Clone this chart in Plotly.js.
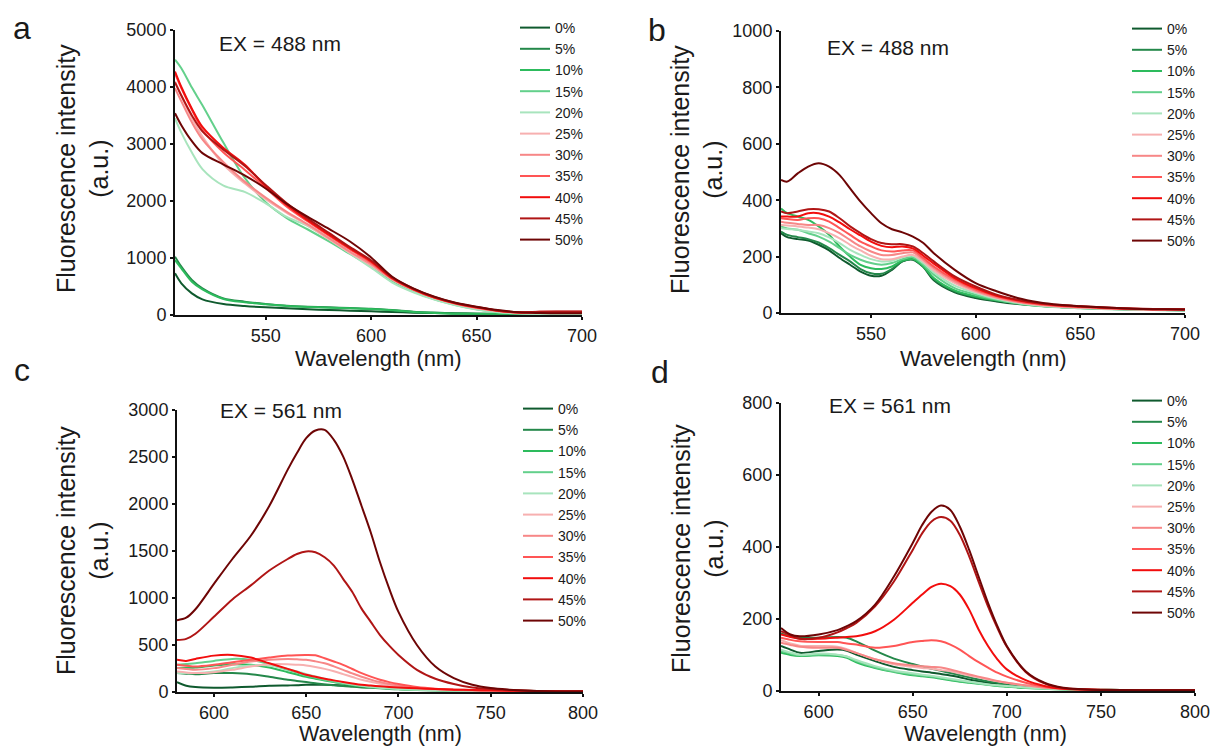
<!DOCTYPE html>
<html>
<head>
<meta charset="utf-8">
<script src="https://cdn.plot.ly/plotly-3.0.1.min.js"></script>
<style>html,body{margin:0;padding:0;background:#fff;}#chart{width:1214px;height:747px;}</style>
</head>
<body>
<div id="chart"></div>
<script>
// ---------- data ----------
const seriesNames = ['0%','5%','10%','15%','20%','25%','30%','35%','40%','45%','50%'];
const seriesColors = ['#0f5a2e','#24884a','#2dbb5d','#63d08b','#a8e4bd','#f7b0b0','#f78787','#ff5555','#f20d0d','#b01515','#6e0505'];

// Panel a: EX = 488 nm (0-5000)
const wlA = [507,510,515,520,530,540,550,560,570,580,590,600,610,620,630,640,650,660,670,680,690,700];
const a0  = [731,556,380,275,193,158,134,117,99,88,76,64,52,41,33,27,23,20,18,18,18,18];
const a5  = [1023,848,614,468,292,234,193,164,146,134,123,111,88,58,42,29,22,18,18,18,18,18];
const a10 = [965,819,585,450,281,222,187,158,140,129,117,105,82,53,36,23,20,20,20,20,20,20];
const a15 = [4480,4330,3990,3680,3020,2410,1980,1700,1500,1290,1070,848,585,409,275,175,99,53,29,18,15,15];
const a20 = [3450,3200,2850,2560,2270,2160,1960,1720,1560,1330,1080,830,570,400,270,170,96,50,28,18,15,15];
const a25 = [4100,3850,3450,3130,2640,2310,2030,1790,1570,1330,1090,870,620,440,300,195,120,70,40,35,40,40];
const a30 = [3980,3750,3380,3080,2680,2340,2060,1810,1590,1350,1110,890,630,445,305,200,125,72,42,40,45,45];
const a35 = [4240,3980,3600,3250,2850,2550,2230,1900,1640,1390,1150,920,640,450,305,202,130,75,45,48,52,52];
const a40 = [4270,4000,3620,3300,2930,2640,2260,1930,1660,1410,1170,940,645,450,304,205,135,76,45,55,58,58];
const a45 = [4080,3850,3500,3220,2900,2620,2280,1960,1690,1440,1190,960,660,462,315,210,140,80,48,58,60,60];
const a50 = [3540,3330,3050,2840,2640,2450,2220,1950,1720,1510,1290,1010,672,468,322,216,146,88,47,35,30,30];

// Panel b: EX = 488 nm (0-1000)
const wlB = [507,510,515,520,525,530,535,540,545,550,555,560,565,570,575,580,590,600,610,620,630,640,650,660,670,680,690,700];
const b0  = [283,269,262,257,242,222,195,171,147,132,132,153,183,189,163,116,73,53,41,32,26,21,18,15,13,12,11,10];
const b5  = [289,277,269,262,250,230,206,183,156,141,139,156,183,191,167,120,77,57,44,35,28,23,19,16,14,12,11,10];
const b10 = [371,354,342,330,307,277,236,200,171,159,156,165,186,191,165,124,80,59,45,35,28,24,20,17,14,12,11,11];
const b15 = [307,300,295,283,271,253,230,206,189,177,171,177,191,198,171,136,88,65,47,34,25,20,17,14,12,11,10,10];
const b20 = [301,298,295,289,283,268,248,224,206,191,183,185,198,203,177,144,97,71,50,36,27,21,18,15,13,12,11,10];
const b25 = [312,310,307,303,297,283,265,242,222,203,191,191,200,206,183,151,106,75,53,38,28,22,19,16,14,12,11,11];
const b30 = [324,320,316,312,312,301,283,259,236,218,206,206,212,215,189,159,112,79,55,40,30,24,20,17,14,13,12,11];
const b35 = [336,333,330,336,336,324,301,277,253,236,222,218,222,222,195,165,118,83,59,42,32,26,22,18,15,13,12,12];
const b40 = [342,342,342,354,354,342,321,297,275,253,238,233,236,229,203,175,124,88,61,45,34,27,23,19,16,14,13,12];
const b45 = [360,354,360,368,368,360,336,307,283,262,248,244,244,236,212,183,130,94,65,47,35,28,24,20,17,15,14,13];
const b50 = [472,466,495,519,531,519,489,442,395,354,318,297,286,271,248,212,153,106,77,53,38,29,24,20,17,14,13,12];

// Panel c: EX = 561 nm (0-3000)
const wlC = [580,585,590,600,610,620,630,640,645,650,655,660,665,670,675,680,685,690,695,700,710,720,730,740,750,760,770,780,790,800];
const c0  = [106,67,53,46,49,56,67,70,72,77,77,77,74,70,65,60,55,49,44,39,32,25,21,18,16,14,12,10,8,7];
const c5  = [201,195,190,201,201,190,162,130,118,106,93,81,72,63,56,49,44,39,33,28,22,18,15,13,11,10,9,8,7,7];
const c10 = [254,258,261,282,296,289,261,211,186,162,142,123,105,88,75,63,55,46,39,32,24,18,15,13,11,10,9,8,7,7];
const c15 = [289,298,306,331,352,342,296,236,206,176,152,130,110,92,77,63,52,42,37,32,24,18,15,13,11,10,9,8,7,7];
const c20 = [201,201,201,218,254,282,282,246,218,190,165,141,120,99,82,67,56,46,39,32,24,18,14,11,10,9,8,8,7,7];
const c25 = [218,208,201,211,236,271,296,296,290,282,266,246,220,190,160,130,108,88,73,60,42,28,22,18,14,11,9,8,7,7];
const c30 = [254,245,236,254,289,324,342,352,348,342,326,306,272,236,198,162,132,106,86,70,46,32,25,21,14,11,9,8,7,7];
const c35 = [289,280,271,289,317,342,366,387,392,394,390,359,325,289,245,201,163,130,105,85,53,35,25,18,15,11,10,9,8,7];
const c40 = [342,331,352,387,394,366,306,246,215,183,162,141,123,106,91,77,68,60,54,49,39,32,25,21,18,14,12,11,9,7];
const c45 = [553,565,620,800,985,1134,1292,1415,1468,1496,1486,1433,1345,1204,1063,887,746,606,493,394,236,141,85,49,32,21,14,7,5,4];
const c50 = [764,790,880,1150,1415,1662,1979,2366,2542,2700,2782,2789,2683,2507,2260,1979,1697,1380,1099,852,500,271,148,77,42,25,14,7,4,4];

// Panel d: EX = 561 nm (0-800)
const wlD = [580,585,590,600,610,615,620,630,640,650,655,660,665,670,675,680,685,690,695,700,710,720,730,740,750,760,780,800];
const d0  = [125,115,106,111,115,112,101,83,67,58,54,51,47,43,38,32,27,23,20,17,12,9,6,5,4,3,2,2];
const d5  = [160,152,148,148,150,148,138,112,90,75,68,62,56,50,44,38,32,27,23,19,13,9,6,5,4,3,2,2];
const d10 = [106,100,97,99,97,92,80,64,53,44,41,38,34,30,26,23,20,17,14,12,8,6,4,3,3,2,2,2];
const d15 = [111,104,99,101,100,95,83,66,54,46,43,40,36,32,28,25,21,18,15,13,9,7,5,4,3,2,2,2];
const d20 = [115,107,101,104,101,96,86,69,57,49,45,42,38,34,30,26,22,18,16,14,10,7,5,4,3,2,2,2];
const d25 = [141,132,126,125,123,116,106,88,74,67,64,62,58,55,49,43,38,32,27,23,15,10,7,5,4,3,2,2];
const d30 = [134,128,123,120,120,114,106,88,77,71,69,67,65,60,53,46,40,34,28,23,16,9,7,5,4,3,2,2];
const d35 = [148,142,138,136,136,132,129,120,125,136,139,141,138,129,115,97,80,65,51,40,23,12,6,4,3,3,2,2];
const d40 = [157,150,145,145,148,150,152,166,198,245,268,289,298,291,268,226,171,125,88,60,30,14,6,4,3,3,2,2];
const d45 = [166,155,145,148,163,175,189,235,304,392,438,471,483,473,434,374,304,235,175,123,53,21,8,5,3,3,2,2];
const d50 = [175,157,152,157,169,180,194,240,318,411,461,498,515,503,457,392,318,245,180,125,55,23,9,5,3,3,2,2];

// ---------- build traces ----------
const panels = [
  {x: wlA, ys: [a0,a5,a10,a15,a20,a25,a30,a35,a40,a45,a50], xa: 'x',  ya: 'y',  lg: 'legend'},
  {x: wlB, ys: [b0,b5,b10,b15,b20,b25,b30,b35,b40,b45,b50], xa: 'x2', ya: 'y2', lg: 'legend2'},
  {x: wlC, ys: [c0,c5,c10,c15,c20,c25,c30,c35,c40,c45,c50], xa: 'x3', ya: 'y3', lg: 'legend3'},
  {x: wlD, ys: [d0,d5,d10,d15,d20,d25,d30,d35,d40,d45,d50], xa: 'x4', ya: 'y4', lg: 'legend4'}
];
const traces = [];
panels.forEach(p => {
  p.ys.forEach((y, i) => {
    traces.push({
      type: 'scatter', mode: 'lines', x: p.x, y: y, name: seriesNames[i],
      xaxis: p.xa, yaxis: p.ya, legend: p.lg,
      line: {color: seriesColors[i], width: 2, shape: 'spline', smoothing: 0.9},
      hoverinfo: 'skip'
    });
  });
});

// ---------- layout ----------
const FONT = 'Liberation Sans, Arial, sans-serif';
const W = 1214, H = 747;
const px = v => v / W;
const py = v => 1 - v / H;
function axisStyle(extra) {
  return Object.assign({
    showline: true, linecolor: '#111', linewidth: 2, mirror: false,
    ticks: 'outside', ticklen: 3, tickwidth: 2, tickcolor: '#111',
    showgrid: false, zeroline: false, fixedrange: true,
    tickfont: {family: FONT, size: 18, color: '#1a1a1a'}
  }, extra);
}
function legendStyle(x, y) {
  return {x: x, y: y, xanchor: 'left', yanchor: 'top', bgcolor: 'rgba(0,0,0,0)',
    font: {family: FONT, size: 14, color: '#1a1a1a'}, tracegroupgap: 0, itemwidth: 30};
}
function ann(text, x, y, size, extra) {
  return Object.assign({text: text, xref: 'paper', yref: 'paper', x: px(x), y: py(y),
    showarrow: false, font: {family: FONT, size: size, color: '#1a1a1a'},
    xanchor: 'center', yanchor: 'middle'}, extra || {});
}

const layout = {
  width: W, height: H,
  margin: {l: 0, r: 0, t: 0, b: 0},
  paper_bgcolor: '#fff', plot_bgcolor: '#fff',
  font: {family: FONT},
  xaxis:  axisStyle({domain: [px(175), px(582)], range: [507, 700], tickvals: [550,600,650,700], anchor: 'y'}),
  yaxis:  axisStyle({domain: [py(315), py(30)], range: [0, 5000], dtick: 1000, anchor: 'x'}),
  xaxis2: axisStyle({domain: [px(781), px(1185)], range: [507, 700], tickvals: [550,600,650,700], anchor: 'y2'}),
  yaxis2: axisStyle({domain: [py(313), py(31)], range: [0, 1000], dtick: 200, anchor: 'x2'}),
  xaxis3: axisStyle({domain: [px(177), px(583)], range: [580, 800], tickvals: [600,650,700,750,800], anchor: 'y3'}),
  yaxis3: axisStyle({domain: [py(692), py(410)], range: [0, 3000], dtick: 500, anchor: 'x3'}),
  xaxis4: axisStyle({domain: [px(781), px(1195)], range: [580, 800], tickvals: [600,650,700,750,800], anchor: 'y4'}),
  yaxis4: axisStyle({domain: [py(691), py(403)], range: [0, 800], dtick: 200, anchor: 'x4'}),
  legend:  legendStyle(px(515), py(12)),
  legend2: legendStyle(px(1127), py(13)),
  legend3: legendStyle(px(518), py(393)),
  legend4: legendStyle(px(1127), py(385)),
  annotations: [
    ann('a', 22, 28, 32), ann('b', 657, 30, 32), ann('c', 22, 370, 32), ann('d', 660, 372, 32),
    ann('EX = 488 nm', 217, 43, 21, {xanchor: 'left'}),
    ann('EX = 488 nm', 825, 47, 21, {xanchor: 'left'}),
    ann('EX = 561 nm', 218, 411, 21, {xanchor: 'left'}),
    ann('EX = 561 nm', 827, 405, 21, {xanchor: 'left'}),
    ann('Fluorescence intensity<br>(a.u.)', 82, 169, 25, {textangle: -90}),
    ann('Fluorescence intensity<br>(a.u.)', 697, 170, 25, {textangle: -90}),
    ann('Fluorescence intensity<br>(a.u.)', 82, 551, 25, {textangle: -90}),
    ann('Fluorescence intensity<br>(a.u.)', 697, 549, 25, {textangle: -90}),
    ann('Wavelength (nm)', 378, 358, 22),
    ann('Wavelength (nm)', 983, 358, 22),
    ann('Wavelength (nm)', 380, 734, 21.5),
    ann('Wavelength (nm)', 985, 734, 21.5)
  ]
};

Plotly.newPlot('chart', traces, layout, {displayModeBar: false, staticPlot: true});
</script>
</body>
</html>
